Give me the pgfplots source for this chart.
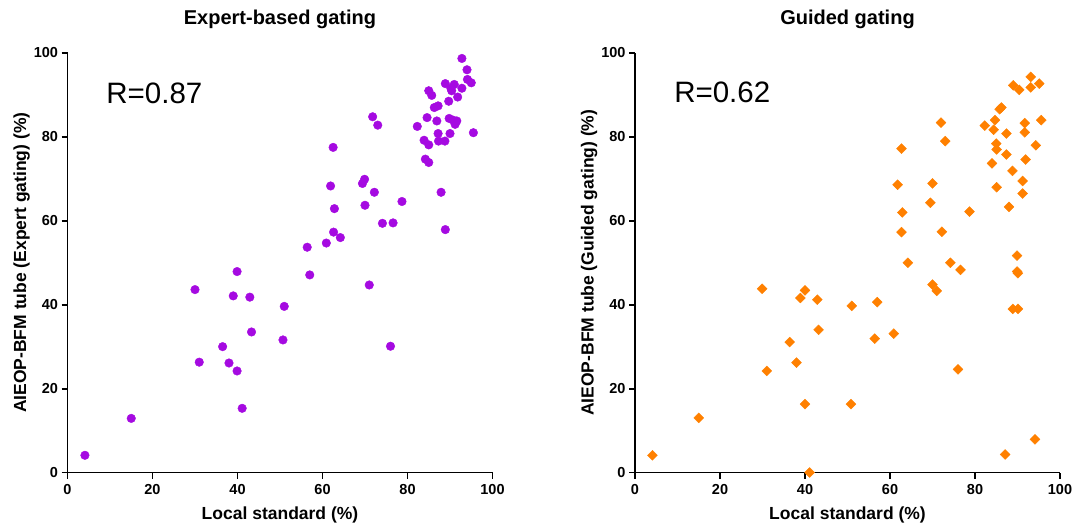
\documentclass[border=0pt]{standalone}
\usepackage{fontspec}
\setmainfont{Liberation Sans}
\usepackage{pgfplots}
\usepackage{pgfplotstable}
\pgfplotsset{compat=1.18}
\definecolor{Violet}{RGB}{165,10,225}
\definecolor{Orange}{RGB}{255,128,0}

% local standard (%) vs AIEOP-BFM tube (%)
\pgfplotstableread{
x y
4.1 4.1
15.0 12.9
30.0 43.6
31.0 26.3
36.5 30.0
38.0 26.1
39.0 42.1
39.9 47.9
39.9 24.2
41.1 15.3
42.9 41.8
43.3 33.5
50.7 31.6
51.0 39.6
56.4 53.7
57.0 47.1
60.9 54.7
61.9 68.3
62.5 77.5
62.6 57.3
62.8 62.9
64.2 56.0
69.4 68.9
69.9 69.9
70.0 63.7
71.0 44.7
71.8 84.8
72.2 66.8
73.0 82.8
74.1 59.4
76.0 30.1
76.6 59.5
78.7 64.6
82.3 82.5
83.9 79.2
84.2 74.7
84.6 84.6
85.0 91.0
85.0 78.1
85.0 73.9
85.7 89.9
86.3 87.0
86.9 83.8
87.2 87.4
87.2 80.8
87.3 79.0
87.9 66.8
88.8 79.0
88.9 92.7
88.9 57.9
89.7 88.5
89.8 84.4
90.0 80.8
90.2 91.6
90.4 91.0
91.0 92.5
90.7 84.0
91.2 83.0
91.6 83.8
91.8 89.5
92.8 98.7
92.8 91.6
94.0 96.0
94.1 93.7
95.0 92.9
95.5 81.0
}\expert

\pgfplotstableread{
x y
4.1 4.1
15.0 13.0
29.9 43.8
31.0 24.2
36.4 31.1
38.0 26.2
38.9 41.6
40.0 43.4
40.0 16.3
41.1 0.0
42.9 41.2
43.2 34.0
50.8 16.3
51.0 39.7
56.4 31.9
57.0 40.6
60.9 33.1
61.8 68.6
62.7 77.2
62.7 57.3
62.9 62.0
64.2 50.0
69.5 64.3
70.0 68.9
70.0 44.8
71.0 43.3
72.0 83.4
72.2 57.4
73.0 79.0
74.2 50.0
76.0 24.6
76.6 48.3
78.7 62.2
82.3 82.7
84.0 73.7
84.4 81.7
84.7 84.0
85.0 78.4
85.1 77.0
85.1 68.0
85.8 86.6
86.2 87.0
87.1 4.3
87.4 75.8
87.4 80.8
88.0 63.3
88.8 71.9
89.0 92.3
88.9 39.0
89.9 51.7
89.9 47.9
90.1 47.5
90.1 39.0
90.4 91.2
91.2 66.5
91.2 69.5
91.7 83.3
91.7 81.1
91.9 74.6
93.1 94.3
93.1 91.8
94.1 7.9
94.3 78.0
95.1 92.7
95.6 84.0
}\guided

\pgfplotsset{gate/.style={
  scale only axis,width=425pt,height=419.5pt,anchor=south west,
  xmin=0,xmax=100,ymin=0,ymax=100,clip=false,
  axis x line=bottom,axis y line=left,
  axis line style={-,line width=1.9pt},
  xtick={0,20,...,100},ytick={0,20,...,100},
  tick align=outside,major tick length=6pt,
  tick style={line width=1.9pt,black},
  ticklabel style={font=\fontsize{14.5}{16}\selectfont\bfseries},
  xticklabel style={yshift=-2pt},
  /pgf/number format/assume math mode=true,
  label style={font=\fontsize{17.5}{20}\selectfont\bfseries},
  xlabel style={at={(axis description cs:0.5,-0.1132)},anchor=base},
  ylabel style={at={(axis description cs:-0.0976,0.5)},anchor=base},
  title style={font=\fontsize{20}{24}\selectfont\bfseries,
    at={(axis description cs:0.5,1.0537)},anchor=base},
  xlabel={Local standard (\%)}}}

\begin{document}
\begin{tikzpicture}
\useasboundingbox (0,0) rectangle (1073pt,525pt);
\begin{axis}[gate,at={(67.5pt,52.5pt)},title={Expert-based gating},
  ylabel={AIEOP-BFM tube (Expert gating) (\%)}]
\addplot[only marks,mark=*,mark size=4.3pt,color=Violet] table {\expert};
\node[anchor=base west,inner sep=0pt,font=\fontsize{29.5}{32}\selectfont] at (axis cs:9.1,87.9) {R=0.87};
\end{axis}
\begin{axis}[gate,at={(635pt,52.5pt)},title={Guided gating},
  ylabel={AIEOP-BFM tube (Guided gating) (\%)}]
\addplot[only marks,mark=square*,mark size=3.5pt,mark options={rotate=45},color=Orange] table {\guided};
\node[anchor=base west,inner sep=0pt,font=\fontsize{29.5}{32}\selectfont] at (axis cs:9.2,88.2) {R=0.62};
\end{axis}
\end{tikzpicture}
\end{document}
